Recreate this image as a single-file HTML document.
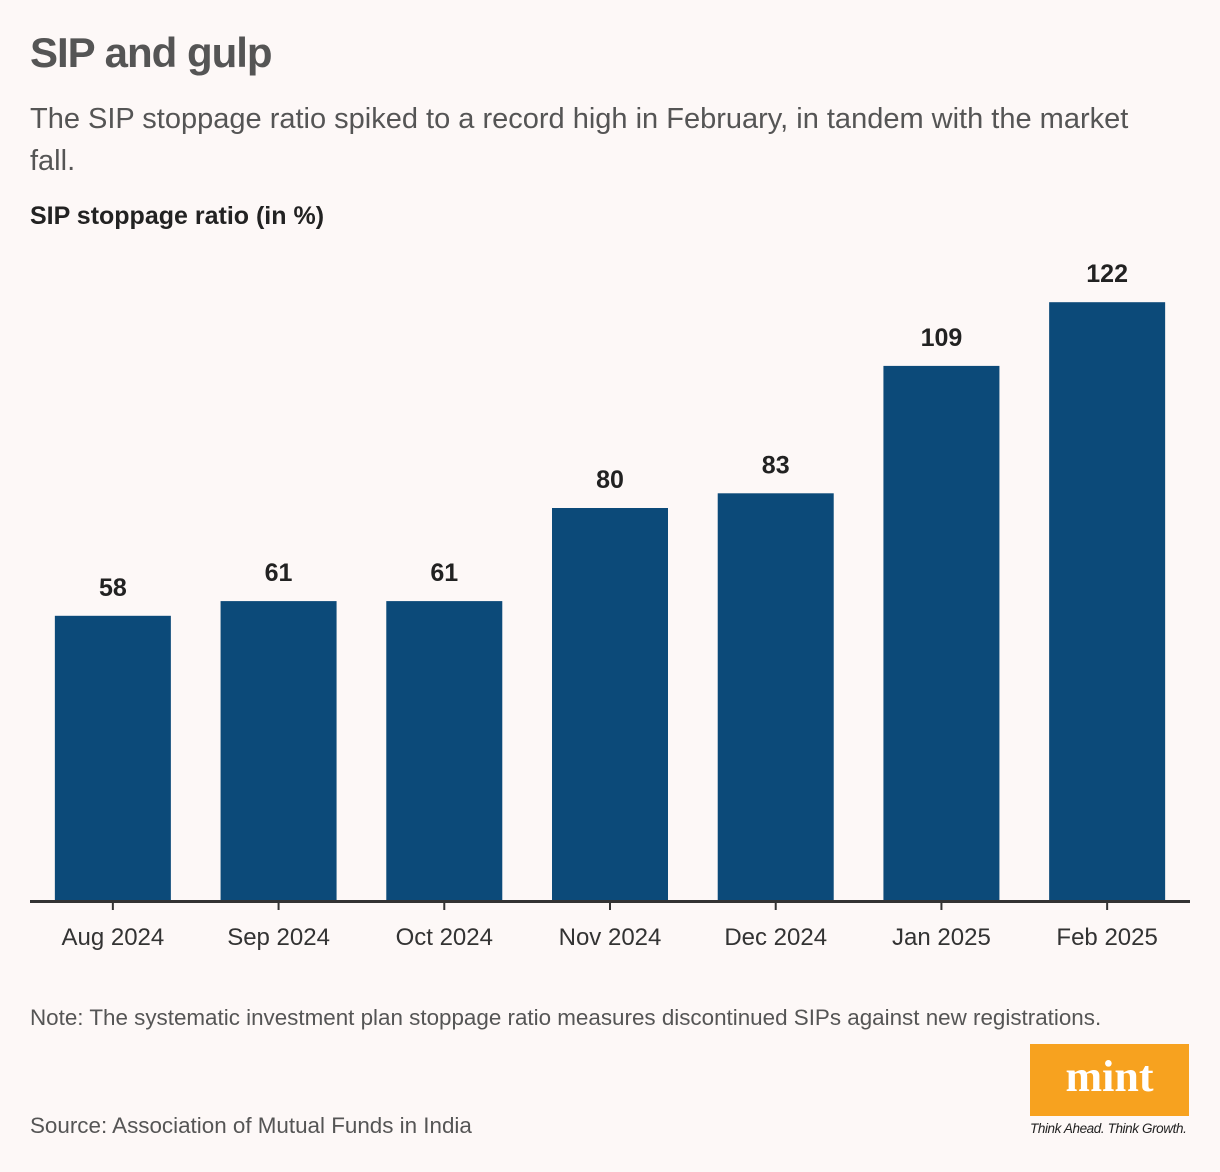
<!DOCTYPE html>
<html><head><meta charset="utf-8"><style>
body{margin:0;width:1220px;height:1172px;background:#fdf8f7;font-family:"Liberation Sans",sans-serif;position:relative;overflow:hidden;color:#333}
.t{position:absolute;left:30px}
</style></head><body>
<div class="t" style="top:29px;font-size:42px;font-weight:bold;color:#555;letter-spacing:-1px">SIP and gulp</div>
<div class="t" style="top:98px;font-size:29px;color:#555;width:1145px;line-height:42px">The SIP stoppage ratio spiked to a record high in February, in tandem with the market fall.</div>
<div class="t" style="top:202px;font-size:25px;font-weight:bold;color:#222">SIP stoppage ratio (in %)</div>
<svg id="c" width="1220" height="1000" style="position:absolute;left:0;top:0"></svg>
<div class="t" style="top:1005px;font-size:22.4px;color:#555">Note: The systematic investment plan stoppage ratio measures discontinued SIPs against new registrations.</div>
<div class="t" style="top:1113px;font-size:22.4px;color:#555">Source: Association of Mutual Funds in India</div>
<div style="position:absolute;left:1030px;top:1044px;width:159px;height:72px;background:#f7a21f;color:#fff;font-family:'Liberation Serif',serif;font-weight:bold;font-size:44px;text-align:center;line-height:66px">mint</div>
<div style="position:absolute;left:1030px;top:1121px;font-size:13.5px;font-style:italic;color:#222;letter-spacing:-0.4px">Think Ahead. Think Growth.</div>
<script>
const categories=["Aug 2024","Sep 2024","Oct 2024","Nov 2024","Dec 2024","Jan 2025","Feb 2025"];
const values=[58,61,61,80,83,109,122];
const svg=document.getElementById('c');
const NS='http://www.w3.org/2000/svg';
const x0=30,x1=1190,base=900,k=4.9;
const bw=(x1-x0)/categories.length,barW=116;
const y=v=>base-v*k;
function mk(t,a){const e=document.createElementNS(NS,t);for(const q in a)e.setAttribute(q,a[q]);svg.appendChild(e);return e;}
categories.forEach((c,i)=>{
 const cx=x0+bw*(i+0.5);
 const r=mk('rect',{x:cx-barW/2,y:y(values[i]),width:barW,height:values[i]*k,fill:'#0c4a79'});
 
 
 const l=mk('text',{x:cx,y:y(values[i])-20,'text-anchor':'middle','font-size':'25','font-weight':'bold',fill:'#222'});
 l.textContent=values[i];
 
 
 const tk=mk('line',{x1:cx,x2:cx,y1:base,y2:base+10,stroke:'#333','stroke-width':2});
 
 
 const tl=mk('text',{x:cx,y:945,'text-anchor':'middle','font-size':'24',fill:'#333'});
 tl.textContent=c;
 
 
});
const ax=mk('line',{x1:x0,x2:x1,y1:base+1.5,y2:base+1.5,stroke:'#333','stroke-width':3});


</script>
</body></html>
